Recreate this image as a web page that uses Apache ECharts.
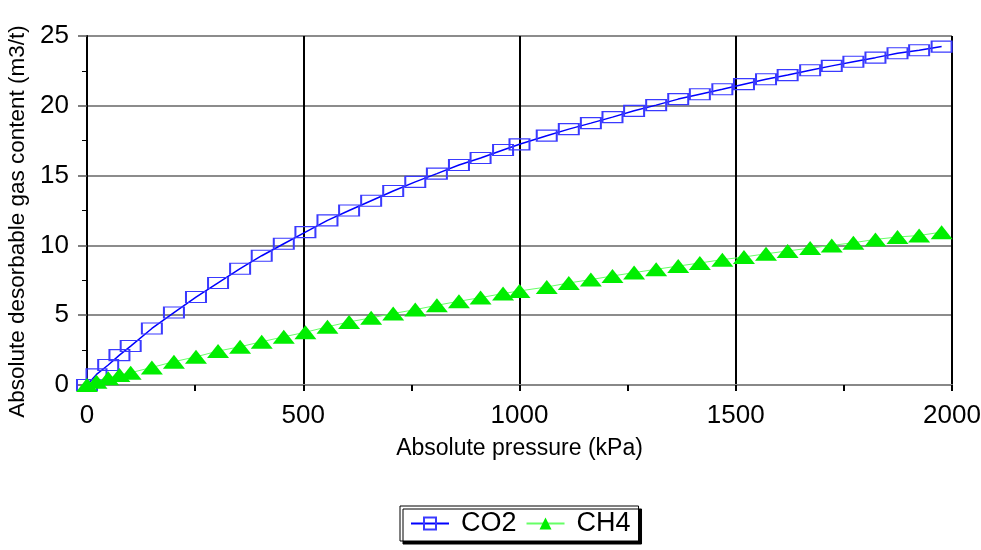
<!DOCTYPE html>
<html>
<head>
<meta charset="utf-8">
<script src="https://cdn.jsdelivr.net/npm/echarts@6/dist/echarts.min.js"></script>
<style>
  html, body { margin: 0; padding: 0; background: #ffffff; }
  #chart { width: 981px; height: 550px; }
</style>
</head>
<body>
<div id="chart"></div>
<script>
// absolute pressure (kPa), same for both gases
var pressure = [0, 22, 49, 75, 101, 150, 201, 252, 303, 354, 404, 455, 505, 556, 606, 657, 708, 759,
  809, 860, 910, 962, 1000, 1063, 1114, 1165, 1215, 1265, 1316, 1367, 1417, 1469, 1519, 1570, 1620,
  1672, 1722, 1772, 1823, 1874, 1924, 1976];
// desorbable gas content (m3/t)
var co2 = [0, 0.76, 1.43, 2.14, 2.79, 4.05, 5.19, 6.3, 7.31, 8.33, 9.26, 10.12, 10.95, 11.79, 12.5,
  13.2, 13.9, 14.55, 15.14, 15.76, 16.26, 16.83, 17.24, 17.86, 18.33, 18.76, 19.19, 19.64, 20.05,
  20.48, 20.83, 21.19, 21.55, 21.9, 22.2, 22.55, 22.86, 23.16, 23.45, 23.76, 23.98, 24.24];
var ch4 = [0, 0.24, 0.48, 0.71, 0.88, 1.26, 1.67, 2.02, 2.43, 2.74, 3.1, 3.45, 3.78, 4.17, 4.52,
  4.81, 5.12, 5.4, 5.71, 6.0, 6.26, 6.55, 6.74, 7.02, 7.31, 7.55, 7.81, 8.05, 8.29, 8.52, 8.74,
  8.98, 9.17, 9.4, 9.6, 9.81, 10.0, 10.19, 10.43, 10.6, 10.71, 10.95];
var seriesNames = ["CO2", "CH4"];

function pairs(ys) {
  return pressure.map(function (p, i) { return [p, ys[i]]; });
}

var chart = echarts.init(document.getElementById("chart"));
var font = "'Liberation Sans', Arial, sans-serif";

var option = {
  animation: false,
  textStyle: { fontFamily: font },
  grid: { left: 87, right: 29, top: 36, bottom: 165, show: false, containLabel: false, outerBoundsMode: "none" },
  legend: {
    left: 400,
    top: 506,
    itemWidth: 38,
    itemHeight: 15,
    itemGap: 9,
    padding: [4, 8, 4, 10],
    borderColor: "#000",
    borderWidth: 1,
    backgroundColor: "#fff",
    shadowColor: "#000",
    shadowOffsetX: 3,
    shadowOffsetY: 3,
    shadowBlur: 0,
    textStyle: { fontSize: 27, color: "#000", fontFamily: font, padding: [0, 0, 0, 7] },
    data: seriesNames
  },
  xAxis: {
    type: "value",
    min: 0,
    max: 2000,
    interval: 500,
    name: "Absolute pressure (kPa)",
    nameLocation: "middle",
    nameGap: 52,
    nameTextStyle: { fontSize: 23, color: "#000", fontFamily: font },
    axisLine: { show: true, lineStyle: { color: "#888", width: 2 } },
    axisTick: { show: true, length: 6, lineStyle: { color: "#000", width: 2 } },
    minorTick: { show: true, splitNumber: 2, length: 6, lineStyle: { color: "#000", width: 2 } },
    axisLabel: {
      fontSize: 26, color: "#000", margin: 18, fontFamily: font,
      formatter: function (v) { return String(v); }
    },
    splitLine: { show: true, lineStyle: { color: "#000", width: 2 } }
  },
  yAxis: {
    type: "value",
    min: 0,
    max: 25,
    interval: 5,
    name: "Absolute desorbable gas content (m3/t)",
    nameLocation: "middle",
    nameGap: 56,
    nameTextStyle: { fontSize: 22.5, color: "#000", fontFamily: font, padding: [0, 22, 0, 0] },
    axisLine: { show: true, lineStyle: { color: "#000", width: 2 } },
    axisTick: { show: true, length: 9, lineStyle: { color: "#555", width: 1.5 } },
    minorTick: { show: true, splitNumber: 2, length: 5, lineStyle: { color: "#000", width: 1 } },
    axisLabel: { fontSize: 26, color: "#000", margin: 18, fontFamily: font },
    splitLine: { show: true, lineStyle: { color: "#666", width: 1.5 } }
  },
  series: [
    {
      name: seriesNames[0],
      type: "line",
      data: pairs(co2),
      symbol: "rect",
      symbolSize: [20, 11],
      showAllSymbol: true,
      lineStyle: { color: "#0000ff", width: 1.5 },
      itemStyle: { color: "rgba(255,255,255,0)", borderColor: "#3a3aff", borderWidth: 1.5 },
      z: 3
    },
    {
      name: seriesNames[1],
      type: "line",
      data: pairs(ch4),
      symbol: "triangle",
      symbolSize: [22, 14],
      showAllSymbol: true,
      lineStyle: { color: "#66ff66", width: 1 },
      itemStyle: { color: "#00ee00", borderWidth: 0 },
      z: 4
    }
  ]
};

chart.setOption(option);
</script>
</body>
</html>
